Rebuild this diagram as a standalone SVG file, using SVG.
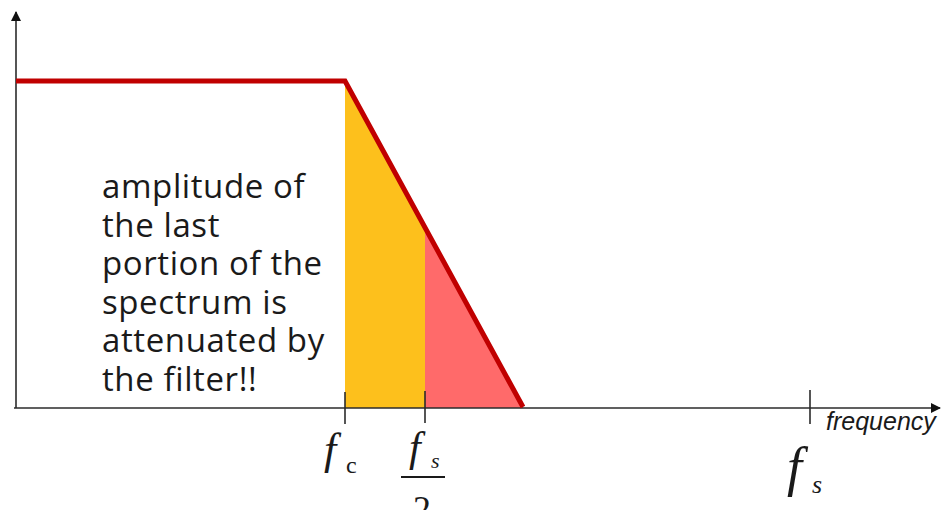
<svg xmlns="http://www.w3.org/2000/svg" width="941" height="510" viewBox="0 0 941 510">
<style>
.axis{stroke:#2b2b2b;stroke-width:1.6;fill:none}
.tick{stroke:#2b2b2b;stroke-width:1.6}
.note{font-family:"Open Sans","Noto Sans",sans-serif;font-size:33px;letter-spacing:0.6px;fill:#1a1a1a}
.m{font-family:"Liberation Serif",serif;fill:#1a1a1a}
</style>
<defs>
<marker id="ah" viewBox="0 0 10 10" refX="9" refY="5" markerWidth="10" markerHeight="10" markerUnits="userSpaceOnUse" orient="auto">
<path d="M0,0 L10,5 L0,10 z" fill="#111"/>
</marker>
</defs>
<rect width="941" height="510" fill="#fff"/>
<g id="fills">
<polygon points="345,81 425,227.5 425,408 345,408" fill="#FDC01C"/>
<polygon points="425,227.5 523,407 523,408 425,408" fill="#FF6A6A"/>
</g>
<g id="connectors">
<line class="axis" x1="16" y1="408" x2="16" y2="12" marker-end="url(#ah)"/>
<line class="axis" x1="14" y1="408" x2="940" y2="408" marker-end="url(#ah)"/>
<line class="tick" x1="345" y1="392" x2="345" y2="424"/>
<line class="tick" x1="425" y1="391" x2="425" y2="423"/>
<line class="tick" x1="810" y1="390" x2="810" y2="424"/>
</g>
<g id="response">
<polyline points="16,81 345,81 523,407" fill="none" stroke="#C00000" stroke-width="5" stroke-linejoin="miter"/>
</g>
<g id="note">
<text class="note" x="102" y="198">amplitude of<tspan x="102" dy="38.5">the last</tspan><tspan x="102" dy="38.5">portion of the</tspan><tspan x="102" dy="38.5">spectrum is</tspan><tspan x="102" dy="38.5">attenuated by</tspan><tspan x="102" dy="38.5">the filter!!</tspan></text>
</g>
<g id="label-fc">
<text class="m" x="324" y="464" font-size="44" font-style="italic">f</text>
<text class="m" x="346" y="473" font-size="24">c</text>
</g>
<g id="label-fs2">
<text class="m" x="409" y="461" font-size="42" font-style="italic">f</text>
<text class="m" x="431" y="468" font-size="22" font-style="italic">s</text>
<line x1="401" y1="477" x2="445" y2="477" stroke="#1a1a1a" stroke-width="1.8"/>
<text class="m" x="413" y="521" font-size="36">2</text>
</g>
<g id="label-fs">
<text class="m" x="787" y="485" font-size="54" font-style="italic">f</text>
<text class="m" x="812" y="493" font-size="26" font-style="italic">s</text>
</g>
<g id="label-frequency">
<text x="826" y="430" font-family="Liberation Sans,Arial,sans-serif" font-size="25" font-style="italic" fill="#1a1a1a">frequency</text>
</g>
</svg>
